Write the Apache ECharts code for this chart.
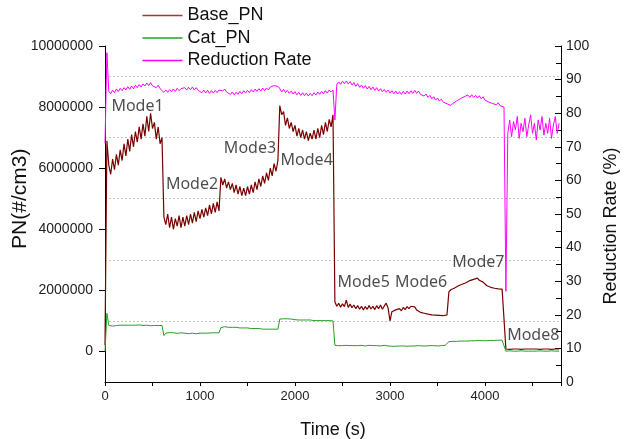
<!DOCTYPE html>
<html><head><meta charset="utf-8">
<script src="https://cdn.jsdelivr.net/npm/echarts@6/dist/echarts.min.js"></script>
<style>html,body{margin:0;padding:0;background:#fff}#c{width:625px;height:439px}</style>
</head><body><div id="c"></div>
<script>
// sampling interval of the series (s)
const timeStep = 20;
// Base_PN, millions of #/cm3, one value per timeStep
const basePN = [
  0.2, 6.9, 6.1, 5.8, 6.3, 5.95, 6.45, 6.1, 6.6, 6.25,
  6.8, 6.4, 6.95, 6.55, 7.1, 6.7, 7.2, 6.85, 7.35, 6.95,
  7.45, 7.05, 7.7, 7.2, 7.8, 7.3, 7.5, 6.95, 7.35, 6.8,
  7.0, 4.4, 4.15, 4.5, 4.05, 4.4, 4.0, 4.35, 4.1, 4.45,
  4.05, 4.4, 4.1, 4.45, 4.15, 4.5, 4.2, 4.55, 4.25, 4.6,
  4.35, 4.65, 4.4, 4.7, 4.45, 4.8, 4.5, 4.85, 4.55, 4.9,
  4.6, 5.7, 5.45, 5.65, 5.35, 5.55, 5.3, 5.5, 5.2, 5.45,
  5.15, 5.4, 5.1, 5.35, 5.1, 5.4, 5.15, 5.45, 5.2, 5.55,
  5.3, 5.65, 5.4, 5.75, 5.5, 5.85, 5.6, 6.0, 5.75, 6.15,
  5.9, 6.25, 8.05, 7.75, 7.85, 7.4, 7.65, 7.3, 7.5, 7.2,
  7.4, 7.05, 7.3, 7.0, 7.25, 6.95, 7.2, 6.9, 7.15, 6.95,
  7.25, 6.95, 7.3, 7.0, 7.4, 7.1, 7.5, 7.2, 7.6, 7.35,
  7.75, 1.62, 1.48, 1.58, 1.45, 1.56, 1.47, 1.68, 1.44, 1.55,
  1.43, 1.52, 1.4, 1.5, 1.38, 1.48, 1.36, 1.47, 1.38, 1.5,
  1.39, 1.48, 1.37, 1.5, 1.4, 1.52, 1.38, 1.49, 1.58, 1.42,
  1.0, 1.3, 1.25, 1.36, 1.3, 1.4, 1.33, 1.44, 1.37, 1.47,
  1.4, 1.48, 1.42, 1.46, 1.36, 1.35, 1.28, 1.33, 1.25, 1.3,
  1.22, 1.28, 1.2, 1.26, 1.19, 1.25, 1.18, 1.24, 1.17, 1.23,
  1.2, 1.95, 2.02, 1.99, 2.08, 2.03, 2.15, 2.1, 2.2, 2.16,
  2.25, 2.22, 2.32, 2.28, 2.36, 2.31, 2.4, 2.33, 2.38, 2.27,
  2.22, 2.15, 2.16, 2.1, 2.14, 2.07, 2.12, 2.05, 2.1, 2.04,
  2.07, 0.08, 0.08, 0.07, 0.08, 0.08, 0.07, 0.08, 0.08, 0.07,
  0.08, 0.08, 0.07, 0.08, 0.08, 0.08, 0.07, 0.08, 0.08, 0.07,
  0.08, 0.08, 0.07, 0.08, 0.08, 0.07, 0.08, 0.08, 0.07, 0.08
];
// Cat_PN, millions of #/cm3
const catPN = [
  0.0, 1.25, 0.85, 0.82, 0.83, 0.84, 0.85, 0.84, 0.86, 0.85,
  0.86, 0.87, 0.86, 0.85, 0.86, 0.87, 0.86, 0.86, 0.87, 0.86,
  0.85, 0.86, 0.86, 0.85, 0.84, 0.86, 0.85, 0.86, 0.85, 0.84,
  0.85, 0.52, 0.6, 0.61, 0.62, 0.6, 0.61, 0.6, 0.59, 0.6,
  0.61, 0.59, 0.6, 0.59, 0.58, 0.59, 0.6, 0.59, 0.58, 0.59,
  0.6, 0.59, 0.6, 0.61, 0.6, 0.6, 0.61, 0.62, 0.61, 0.62,
  0.61, 0.78, 0.8, 0.81, 0.8, 0.79, 0.8, 0.79, 0.78, 0.79,
  0.78, 0.77, 0.78, 0.77, 0.76, 0.77, 0.76, 0.75, 0.76, 0.75,
  0.74, 0.75, 0.74, 0.73, 0.74, 0.73, 0.72, 0.73, 0.72, 0.73,
  0.72, 0.73, 1.06, 1.08, 1.07, 1.06, 1.07, 1.05, 1.06, 1.05,
  1.04, 1.05, 1.03, 1.04, 1.03, 1.02, 1.03, 1.02, 1.03, 1.02,
  1.01, 1.02, 1.01, 1.02, 1.01, 1.0, 1.01, 1.0, 1.01, 1.0,
  1.0, 0.2, 0.19, 0.19, 0.2, 0.19, 0.19, 0.2, 0.19, 0.19,
  0.2, 0.19, 0.2, 0.19, 0.19, 0.2, 0.19, 0.18, 0.19, 0.2,
  0.19, 0.19, 0.18, 0.19, 0.19, 0.18, 0.19, 0.2, 0.19, 0.18,
  0.15, 0.17, 0.18, 0.17, 0.18, 0.18, 0.17, 0.18, 0.18, 0.17,
  0.18, 0.18, 0.17, 0.18, 0.18, 0.19, 0.18, 0.18, 0.19, 0.18,
  0.18, 0.19, 0.18, 0.19, 0.19, 0.18, 0.19, 0.19, 0.2, 0.2,
  0.2, 0.32, 0.33, 0.33, 0.34, 0.33, 0.34, 0.34, 0.35, 0.34,
  0.35, 0.34, 0.35, 0.35, 0.34, 0.35, 0.35, 0.36, 0.35, 0.35,
  0.36, 0.35, 0.36, 0.36, 0.35, 0.36, 0.36, 0.37, 0.36, 0.37,
  0.36, 0.01, 0.01, 0.02, 0.01, 0.01, 0.02, 0.01, 0.01, 0.02,
  0.01, 0.01, 0.02, 0.01, 0.01, 0.01, 0.02, 0.01, 0.01, 0.02,
  0.01, 0.01, 0.02, 0.01, 0.01, 0.02, 0.01, 0.01, 0.02, 0.01
];
// Reduction Rate, %
const reductionRate = [
  71, 98, 86.5, 85.8, 86.9, 86.1, 87.2, 86.4, 87.4, 86.7,
  87.6, 86.9, 87.9, 87.1, 88.1, 87.3, 88.3, 87.6, 88.5, 87.8,
  88.7, 88.1, 89.0, 88.2, 89.1, 88.1, 88.6, 87.6, 88.3, 87.3,
  87.7, 86.2, 86.9, 86.2, 87.0, 86.4, 87.2, 86.5, 87.4, 86.7,
  87.3, 86.8, 87.6, 86.9, 87.7, 87.0, 87.8, 86.9, 87.6, 86.8,
  87.1, 86.1, 86.9, 86.0, 86.8, 85.9, 86.7, 86.0, 86.8, 86.1,
  86.9, 87.3, 86.6, 87.2, 86.3, 86.5, 85.6, 86.3, 85.5, 86.2,
  85.6, 86.5, 85.8, 86.7, 86.0, 86.8, 86.1, 87.0, 86.3, 87.2,
  86.5, 87.3, 86.6, 87.5, 86.7, 87.5, 86.9, 87.8, 87.3, 88.2,
  88.5, 88.0, 87.3, 86.3, 87.1, 86.1, 86.8, 85.9, 86.6, 85.7,
  86.4, 85.5, 86.2, 85.3, 86.1, 85.2, 86.0, 85.1, 85.9, 85.2,
  86.1, 85.4, 86.3, 85.6, 86.5, 85.8, 86.7, 86.0, 86.9, 86.3,
  86.9, 78, 88.6, 89.3, 88.6, 89.5, 88.8, 89.6, 88.7, 89.4,
  88.4, 89.1, 88.0, 88.8, 87.7, 88.4, 87.4, 88.2, 87.2, 88.0,
  87.0, 87.8, 86.8, 87.6, 86.6, 87.3, 86.4, 87.1, 86.2, 86.9,
  86.0, 86.7, 85.8, 86.6, 85.7, 86.4, 85.6, 86.5, 85.7, 86.6,
  85.8, 86.7, 85.9, 86.8, 85.9, 86.6, 85.6, 86.1, 85.1, 85.7,
  84.7, 85.3, 84.3, 84.9, 83.9, 84.5, 83.6, 84.2, 83.3, 83.7,
  82.8, 83.0, 82.3, 82.9, 82.7, 83.6, 83.3, 84.3, 84.0, 84.9,
  84.5, 85.4, 84.7, 85.5, 84.7, 85.3, 84.5, 85.2, 84.3, 84.9,
  83.9, 84.1, 83.3, 83.7, 82.9, 83.3, 82.5, 83.1, 82.2, 82.6,
  81.8, 27, 74, 78, 73, 77.5, 75, 79, 72.5, 77,
  74.5, 78.5, 73, 76.5, 79.5, 74, 77, 72, 78, 75,
  79, 73.5, 77, 74, 78.5, 72.5, 76.5, 79, 74, 77
];
// mode annotations (time s, PN millions)
const modeNames = ['Mode1','Mode2','Mode3','Mode4','Mode5','Mode6','Mode7','Mode8'];
const modeTime  = [342, 916, 1526, 2123, 2723, 3327, 3930, 4508];
const modePN    = [8.01, 5.48, 6.64, 6.24, 2.26, 2.26, 2.93, 0.52];

const PN_UNIT = 1e6;
const toPairs = (arr, scale) => arr.map((v, i) => [i * timeStep, v * scale]);

const AX = '#000';
const FONT = 'Liberation Sans, Arial, sans-serif';
const LBL = { color: '#222', fontFamily: FONT, fontSize: 14 };
const NAME = { color: '#111', fontFamily: FONT, fontSize: 18 };

const chart = echarts.init(document.getElementById('c'), null, { renderer: 'canvas' });
chart.setOption({
  animation: false,
  backgroundColor: '#fff',
  grid: [
    { left: 105, right: 64, top: 46, bottom: 57, outerBoundsMode: 'none', containLabel: false },     // data area
    { left: 105, right: 64, top: 46, bottom: 87.5, outerBoundsMode: 'none', containLabel: false },   // PN labels 0..1e7
    { left: 105, right: 64, top: 76.5, bottom: 118.1, outerBoundsMode: 'none', containLabel: false } // dotted lines 1e6..9e6
  ],
  legend: {
    data: [
      { name: 'Base_PN', icon: 'rect' },
      { name: 'Cat_PN', icon: 'rect' },
      { name: 'Reduction Rate', icon: 'rect' }
    ],
    orient: 'vertical', left: 142.5, top: 6.5, padding: 0,
    itemWidth: 40, itemHeight: 1.5, itemGap: 4.5,
    textStyle: { color: '#111', fontFamily: FONT, fontSize: 18, lineHeight: 18 }
  },
  xAxis: [
    {
      gridIndex: 0, type: 'value', min: 0, max: 4800, interval: 500,
      name: 'Time (s)', nameLocation: 'middle', nameGap: 39, nameTextStyle: NAME,
      axisLine: { show: true, onZero: false, lineStyle: { color: AX, width: 1 } },
      axisTick: { show: true, inside: false, length: 4, lineStyle: { color: AX } },
      axisLabel: Object.assign({ margin: 8, formatter: v => (v % 1000 === 0 ? String(v) : '') }, LBL, { fontSize: 13 }),
      splitLine: { show: false }
    },
    { gridIndex: 1, type: 'value', min: 0, max: 1, show: false },
    { gridIndex: 2, type: 'value', min: 0, max: 1, show: false }
  ],
  yAxis: [
    { // 0: PN scale for data
      gridIndex: 0, type: 'value', min: -1e6, max: 1e7, position: 'left',
      axisLine: { show: true, onZero: false, lineStyle: { color: AX, width: 1 } },
      axisTick: { show: false }, axisLabel: { show: false }, splitLine: { show: false }
    },
    { // 1: reduction rate
      gridIndex: 0, type: 'value', min: 0, max: 100, interval: 10, position: 'right',
      name: 'Reduction Rate (%)', nameLocation: 'middle', nameRotate: 90, nameGap: 41,
      nameTextStyle: Object.assign({}, NAME, { padding: [0, 24, 0, 0] }),
      axisLine: { show: true, onZero: false, lineStyle: { color: AX, width: 1 } },
      axisTick: { show: true, inside: true, length: 6, lineStyle: { color: AX } },
      minorTick: { show: true, splitNumber: 2, length: 5, lineStyle: { color: AX } },
      axisLabel: Object.assign({ margin: 5 }, LBL),
      splitLine: { show: false }
    },
    { // 2: PN labels
      gridIndex: 1, type: 'value', min: 0, max: 1e7, interval: 2e6, position: 'left',
      name: 'PN(#/cm3)', nameLocation: 'middle', nameGap: 74, nameMoveOverlap: false,
      nameTextStyle: Object.assign({}, NAME, { fontSize: 21 }),
      axisLine: { show: false },
      axisTick: { show: true, inside: false, length: 6, lineStyle: { color: AX } },
      axisLabel: Object.assign({ margin: 12, formatter: v => v.toFixed(0) }, LBL),
      splitLine: { show: false }
    },
    { // 3: dotted guide lines at odd millions
      gridIndex: 2, type: 'value', min: 1e6, max: 9e6, interval: 2e6,
      axisLine: { show: false }, axisTick: { show: false }, axisLabel: { show: false },
      splitLine: { show: true, lineStyle: { color: '#c4c4c4', width: 1, type: [2, 2] } }
    }
  ],
  series: [
    {
      name: 'Base_PN', type: 'line', xAxisIndex: 0, yAxisIndex: 0,
      data: toPairs(basePN, PN_UNIT), symbol: 'none', showSymbol: false,
      lineStyle: { color: '#7a0000', width: 1.2 }, itemStyle: { color: '#a33' }, z: 3
    },
    {
      name: 'Cat_PN', type: 'line', xAxisIndex: 0, yAxisIndex: 0,
      data: toPairs(catPN, PN_UNIT), symbol: 'none', showSymbol: false,
      lineStyle: { color: '#23a023', width: 1 }, itemStyle: { color: '#23a023' }, z: 3
    },
    {
      name: 'Reduction Rate', type: 'line', xAxisIndex: 0, yAxisIndex: 1,
      data: toPairs(reductionRate, 1), symbol: 'none', showSymbol: false,
      lineStyle: { color: '#ff00ff', width: 1 }, itemStyle: { color: '#ff00ff' }, z: 4
    },
    {
      name: 'modes', type: 'scatter', xAxisIndex: 0, yAxisIndex: 0, silent: true,
      symbolSize: 1, itemStyle: { color: 'rgba(0,0,0,0)' }, z: 6,
      data: modeNames.map((n, i) => ({ name: n, value: [modeTime[i], modePN[i] * PN_UNIT] })),
      label: {
        show: true, position: 'inside', formatter: p => p.name,
        color: '#1e1e1e', fontFamily: 'Noto Sans, Open Sans, sans-serif', fontSize: 16
      }
    }
  ]
});
</script>
</body></html>
